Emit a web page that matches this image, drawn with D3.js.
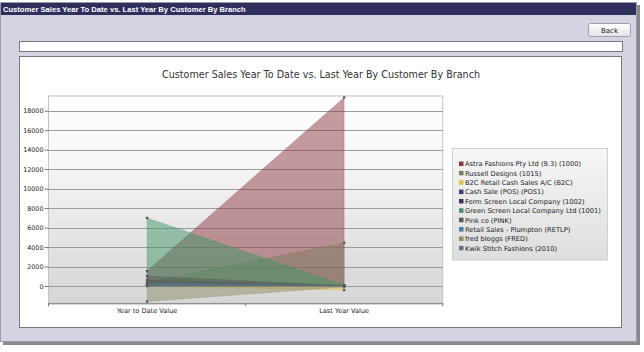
<!DOCTYPE html>
<html>
<head>
<meta charset="utf-8">
<script src="https://cdn.jsdelivr.net/npm/d3@7"></script>
<style>
  body { margin: 0; background: #fff; }
  svg { display: block; }
</style>
</head>
<body>
<svg id="page" width="644" height="352"></svg>
<script>
const categories = ['Year to Date Value', 'Last Year Value']
const customers = [
	'Astra Fashions Pty Ltd (9.3) (1000)',
	'Russell Designs (1015)',
	'B2C Retail Cash Sales A/C (B2C)',
	'Cash Sale (POS) (POS1)',
	'Form Screen Local Company (1002)',
	'Green Screen Local Company Ltd (1001)',
	'Pink co (PINK)',
	'Retail Sales - Plumpton (RETLP)',
	'fred bloggs (FRED)',
	'Kwik Stitch Fashions (2010)'
]
const ytdValues = [1535, 420, 0, 100, 615, 6985, 1020, 150, -1600, 300]
const lastYearValues = [19360, 4430, -410, 20, 60, 70, 50, 0, -100, 40]
const yTicks = [0, 2000, 4000, 6000, 8000, 10000, 12000, 14000, 16000, 18000]
const palette = ['#8e3a42', '#7b7c5e', '#e6bf45', '#3b3b7e', '#4a2e5c',
	'#3f9467', '#595959', '#3b80b6', '#8e8b63', '#5f7586']

const svg = d3.select('#page')

// window frame
svg.append('rect').attr('x', 3).attr('y', 5).attr('width', 637).attr('height', 340).attr('fill', '#8a8a8a')
svg.append('rect').attr('x', 0.5).attr('y', 2.5).attr('width', 636).attr('height', 339)
	.attr('fill', '#d3d3e2').attr('stroke', '#9a9aaa')
svg.append('rect').attr('x', 1).attr('y', 3).attr('width', 635).attr('height', 12).attr('fill', '#2f2f5e')
svg.append('text').attr('x', 3).attr('y', 12)
	.attr('font-family', 'Liberation Sans').attr('font-weight', 'bold').attr('font-size', 7.6)
	.attr('fill', '#fff')
	.text('Customer Sales Year To Date vs. Last Year By Customer By Branch')

// back button
const btnGrad = svg.append('defs').append('linearGradient').attr('id', 'btn').attr('x2', 0).attr('y2', 1)
btnGrad.append('stop').attr('offset', 0).attr('stop-color', '#ffffff')
btnGrad.append('stop').attr('offset', 1).attr('stop-color', '#e2e2e8')
svg.append('rect').attr('x', 588.5).attr('y', 23.5).attr('width', 42).attr('height', 13).attr('rx', 2)
	.attr('fill', 'url(#btn)').attr('stroke', '#a0a0ac')
svg.append('text').attr('x', 609.5).attr('y', 33).attr('text-anchor', 'middle')
	.attr('font-family', 'DejaVu Sans').attr('font-size', 7).attr('fill', '#222').text('Back')

// text box and chart panel
svg.append('rect').attr('x', 19.5).attr('y', 41.5).attr('width', 603).attr('height', 10)
	.attr('fill', '#fff').attr('stroke', '#77777f')
svg.append('rect').attr('x', 19.5).attr('y', 56.5).attr('width', 602).attr('height', 271)
	.attr('fill', '#fff').attr('stroke', '#77777f')

svg.append('text').attr('x', 321).attr('y', 78).attr('text-anchor', 'middle')
	.attr('font-family', 'DejaVu Sans').attr('font-size', 9.6).attr('fill', '#333')
	.text('Customer Sales Year To Date vs. Last Year By Customer By Branch')

// plot area
const plot = {left: 48.5, right: 442.7, top: 96, bottom: 303.3}

const bgGrad = svg.select('defs').append('linearGradient').attr('id', 'bg').attr('x2', 0).attr('y2', 1)
bgGrad.append('stop').attr('offset', 0).attr('stop-color', '#ffffff')
bgGrad.append('stop').attr('offset', 0.3).attr('stop-color', '#f7f7f7')
bgGrad.append('stop').attr('offset', 1).attr('stop-color', '#d6d6d6')

svg.append('rect').attr('x', plot.left).attr('y', plot.top)
	.attr('width', plot.right - plot.left).attr('height', plot.bottom - plot.top)
	.attr('fill', 'url(#bg)').attr('stroke', '#c4c4c4')

let xScale = d3.scaleBand()
	.domain(categories)
	.range([plot.left, plot.right])

let yScale = d3.scaleLinear()
	.domain([-1776, 19509])
	.range([plot.bottom, plot.top])

svg.append('g').selectAll('line')
	.data(yTicks)
	.enter()
	.append('line')
	.attr('x1', plot.left).attr('x2', plot.right)
	.attr('y1', d => Math.round(yScale(d)) + 0.5).attr('y2', d => Math.round(yScale(d)) + 0.5)
	.attr('stroke', '#9a9a9a')

const yAxis = d3.axisLeft(yScale).tickValues(yTicks).tickFormat(d3.format('d')).tickSize(4).tickPadding(1)
const yG = svg.append('g')
	.attr('transform', `translate(${plot.left},0)`)
	.call(yAxis)
yG.select('.domain').remove()
yG.selectAll('line').attr('stroke', '#777')
yG.selectAll('text').attr('font-family', 'DejaVu Sans').attr('font-size', 6.4).attr('fill', '#222')

// series areas, each filled from the zero line
const series = customers.map((name, i) => ({
	name: name,
	color: palette[i],
	values: [ytdValues[i], lastYearValues[i]]
}))

const area = d3.area()
	.x((d, i) => xScale(categories[i]) + xScale.bandwidth() / 2)
	.y0(yScale(0))
	.y1(d => yScale(d))

svg.append('g').selectAll('path')
	.data(series)
	.enter()
	.append('path')
	.attr('d', d => area(d.values))
	.attr('fill', d => d.color)
	.attr('fill-opacity', 0.5)
	.attr('stroke', d => d.color)
	.attr('stroke-opacity', 0.4)
	.attr('stroke-width', 0.6)

series.forEach(s => {
	svg.append('g').selectAll('rect')
		.data(s.values)
		.enter()
		.append('rect')
		.attr('x', (d, i) => xScale(categories[i]) + xScale.bandwidth() / 2 - 1.2)
		.attr('y', d => yScale(d) - 1.2)
		.attr('width', 2.4).attr('height', 2.4)
		.attr('fill', '#5a5a5a')
})

// x axis
const xAxis = d3.axisBottom(xScale).tickSize(0).tickPadding(5)
const xG = svg.append('g')
	.attr('transform', `translate(0,${plot.bottom})`)
	.call(xAxis)
xG.select('.domain').attr('stroke', '#777')
xG.selectAll('text').attr('font-family', 'DejaVu Sans').attr('font-size', 6.6).attr('fill', '#222')
xG.selectAll('.edge')
	.data([plot.left, (plot.left + plot.right) / 2, plot.right])
	.enter()
	.append('line')
	.attr('class', 'edge')
	.attr('x1', d => d).attr('x2', d => d)
	.attr('y1', 0).attr('y2', 3)
	.attr('stroke', '#777')

// legend
const lgGrad = svg.select('defs').append('linearGradient').attr('id', 'lg').attr('x2', 0).attr('y2', 1)
lgGrad.append('stop').attr('offset', 0).attr('stop-color', '#f6f6f6')
lgGrad.append('stop').attr('offset', 1).attr('stop-color', '#dedede')
svg.append('rect').attr('x', 452.5).attr('y', 148.5).attr('width', 155).attr('height', 111.5)
	.attr('fill', 'url(#lg)').attr('stroke', '#d0d0d0')

let legendY = d3.scalePoint().domain(customers).range([164, 248.3])

svg.append('g').selectAll('rect')
	.data(series)
	.enter()
	.append('rect')
	.attr('x', 459)
	.attr('y', d => legendY(d.name) - 2.5)
	.attr('width', 4.5).attr('height', 4.5)
	.attr('fill', d => d.color)

svg.append('g').selectAll('text')
	.data(series)
	.enter()
	.append('text')
	.attr('x', 465)
	.attr('y', d => legendY(d.name) + 2.3)
	.attr('font-family', 'DejaVu Sans')
	.attr('font-size', 6.7)
	.attr('fill', '#222')
	.text(d => d.name)
</script>
</body>
</html>
